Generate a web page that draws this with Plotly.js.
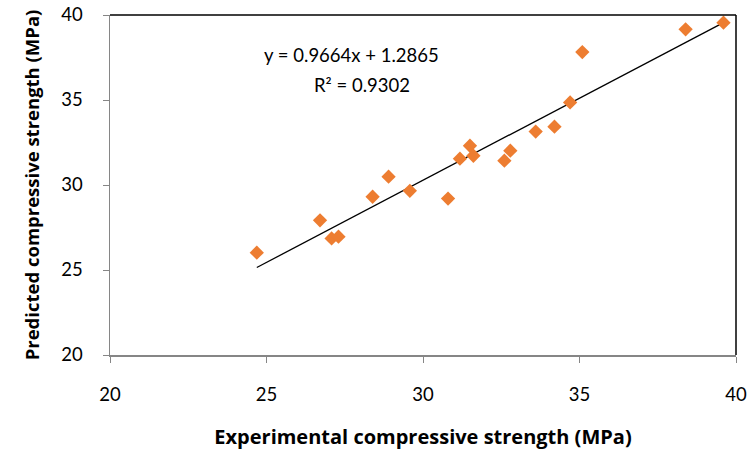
<!DOCTYPE html>
<html>
<head>
<meta charset="utf-8">
<script src="https://cdn.plot.ly/plotly-3.0.1.min.js"></script>
<style>html,body{margin:0;padding:0;background:#fff;}#chart{width:751px;height:459px;}</style>
</head>
<body>
<div id="chart"></div>
<script>
const experimental = [24.69, 26.71, 27.08, 27.30, 28.39, 28.90, 29.58, 30.80, 31.18, 31.50, 31.61, 32.60, 32.79, 33.60, 34.20, 34.70, 35.09, 38.39, 39.60];
const predicted    = [26.02, 27.92, 26.86, 26.96, 29.31, 30.49, 29.66, 29.20, 31.55, 32.31, 31.72, 31.43, 32.02, 33.14, 33.43, 34.86, 37.82, 39.16, 39.55];
const slope = 0.9664;
const intercept = 1.2865;
const rSquared = 0.9302;
const tickVals = [20, 25, 30, 35, 40];

const xMin = Math.min(...experimental), xMax = Math.max(...experimental);
const trendX = [xMin, xMax];
const trendY = trendX.map(v => slope * v + intercept);

const FONT = 'Lato, "Open Sans", sans-serif';
const BOLD = '"Open Sans", Lato, sans-serif';

const traces = [
  {
    x: trendX, y: trendY, type: 'scatter', mode: 'lines',
    line: {color: '#000000', width: 1.3}, hoverinfo: 'skip', showlegend: false
  },
  {
    x: experimental, y: predicted, type: 'scatter', mode: 'markers',
    marker: {symbol: 'diamond', size: 11, color: '#ED7D31', line: {width: 0}},
    showlegend: false
  }
];

const layout = {
  width: 751, height: 459,
  margin: {l: 110, r: 15, t: 15, b: 104},
  paper_bgcolor: '#ffffff', plot_bgcolor: '#ffffff',
  font: {family: FONT, size: 18.5, color: '#000000'},
  xaxis: {
    range: [20, 40], tickvals: tickVals, ticktext: tickVals.map(String),
    showgrid: false, zeroline: false,
    showline: true, linecolor: '#868686', linewidth: 1.5,
    ticks: 'outside', ticklen: 6, tickcolor: '#868686', tickwidth: 1,
    ticklabelstandoff: 16,
    tickfont: {family: FONT, size: 18.5, color: '#000'},
    title: {text: 'Experimental compressive strength (MPa)', font: {family: BOLD, size: 20, color: '#000', weight: 'bold'}, standoff: 26}
  },
  yaxis: {
    range: [20, 40], tickvals: tickVals, ticktext: tickVals.map(String),
    showgrid: false, zeroline: false,
    showline: true, linecolor: '#868686', linewidth: 1.5,
    ticks: 'outside', ticklen: 6, tickcolor: '#868686', tickwidth: 1,
    ticklabelstandoff: 16,
    tickfont: {family: FONT, size: 18.5, color: '#000'},
    title: {text: 'Predicted compressive strength (MPa)', font: {family: BOLD, size: 18.5, color: '#000', weight: 'bold'}, standoff: 17}
  },
  shapes: [
    {type: 'line', xref: 'paper', yref: 'paper', x0: 0, x1: 1, y0: 1, y1: 1, line: {color: '#000', width: 1.5}},
    {type: 'line', xref: 'paper', yref: 'paper', x0: 1, x1: 1, y0: 0, y1: 1, line: {color: '#000', width: 1.5}}
  ],
  annotations: [
    {x: 0.385, y: 0.882, xref: 'paper', yref: 'paper', xanchor: 'center', yanchor: 'middle', showarrow: false,
     text: 'y = ' + slope + 'x + ' + intercept, font: {family: FONT, size: 18.5, color: '#000'}},
    {x: 0.403, y: 0.794, xref: 'paper', yref: 'paper', xanchor: 'center', yanchor: 'middle', showarrow: false,
     text: 'R² = ' + rSquared, font: {family: FONT, size: 18.5, color: '#000'}}
  ]
};

Plotly.newPlot('chart', traces, layout, {displayModeBar: false, staticPlot: true});
</script>
</body>
</html>
